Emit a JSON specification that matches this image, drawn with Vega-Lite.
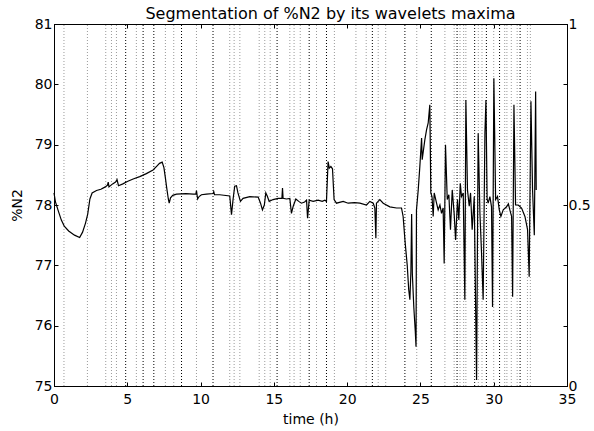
{
  "$schema": "https://vega.github.io/schema/vega-lite/v6.json",
  "width": 513,
  "height": 362,
  "autosize": "none",
  "padding": {"left": 54, "top": 24, "right": 27, "bottom": 45},
  "background": "white",
  "config": {
    "font": "DejaVu Sans",
    "view": {"stroke": "black", "strokeWidth": 1},
    "axis": {
      "grid": false,
      "domainColor": "black",
      "tickColor": "black",
      "labelColor": "black",
      "titleColor": "black",
      "labelFont": "DejaVu Sans",
      "titleFont": "DejaVu Sans",
      "labelFontSize": 14,
      "titleFontSize": 14,
      "titleFontWeight": "normal",
      "tickSize": -4,
      "labelFlush": false,
      "labelOverlap": false
    }
  },
  "title": {
    "text": "Segmentation of %N2 by its wavelets maxima",
    "fontSize": 16,
    "fontWeight": "normal",
    "font": "DejaVu Sans",
    "color": "black",
    "anchor": "middle",
    "offset": -5,
    "dx": 20
  },
  "datasets": {
    "cuts": [
      {"t": 0.68, "level": "fine"}, {"t": 2.28, "level": "fine"}, {"t": 3.53, "level": "fine"},
      {"t": 3.92, "level": "fine"}, {"t": 4.26, "level": "fine"}, {"t": 4.89, "level": "coarse"},
      {"t": 5.62, "level": "fine"}, {"t": 6.08, "level": "coarse"}, {"t": 6.81, "level": "coarse"},
      {"t": 7.6, "level": "fine"}, {"t": 8.17, "level": "fine"}, {"t": 8.7, "level": "coarse"},
      {"t": 9.72, "level": "fine"}, {"t": 10.85, "level": "coarse"}, {"t": 11.99, "level": "fine"},
      {"t": 12.29, "level": "fine"}, {"t": 12.68, "level": "fine"}, {"t": 14.0, "level": "fine"},
      {"t": 14.38, "level": "fine"}, {"t": 14.75, "level": "fine"}, {"t": 15.22, "level": "coarse"},
      {"t": 16.09, "level": "fine"}, {"t": 16.38, "level": "fine"}, {"t": 16.8, "level": "fine"},
      {"t": 17.41, "level": "coarse"}, {"t": 17.91, "level": "fine"}, {"t": 18.59, "level": "coarse"},
      {"t": 19.13, "level": "fine"}, {"t": 20.6, "level": "fine"}, {"t": 21.3, "level": "fine"},
      {"t": 21.72, "level": "coarse"}, {"t": 22.12, "level": "fine"}, {"t": 22.63, "level": "fine"},
      {"t": 23.94, "level": "coarse"}, {"t": 24.75, "level": "fine"}, {"t": 25.74, "level": "coarse"},
      {"t": 26.67, "level": "fine"}, {"t": 27.3, "level": "fine"}, {"t": 27.5, "level": "coarse"},
      {"t": 27.7, "level": "fine"}, {"t": 27.95, "level": "fine"}, {"t": 28.1, "level": "fine"},
      {"t": 28.7, "level": "coarse"}, {"t": 28.95, "level": "fine"}, {"t": 29.2, "level": "fine"},
      {"t": 29.5, "level": "coarse"}, {"t": 30.0, "level": "fine"}, {"t": 30.4, "level": "coarse"},
      {"t": 30.75, "level": "fine"}, {"t": 30.9, "level": "fine"}, {"t": 31.2, "level": "fine"},
      {"t": 31.6, "level": "fine"}, {"t": 31.8, "level": "coarse"}, {"t": 32.3, "level": "fine"},
      {"t": 32.5, "level": "fine"}
    ],
    "n2": [
      {"t": 0, "v": 78.2}, {"t": 0.1, "v": 78.05}, {"t": 0.27, "v": 77.92}, {"t": 0.5, "v": 77.75},
      {"t": 0.7, "v": 77.65}, {"t": 1.0, "v": 77.57}, {"t": 1.4, "v": 77.5}, {"t": 1.75, "v": 77.46},
      {"t": 1.95, "v": 77.55}, {"t": 2.15, "v": 77.7}, {"t": 2.3, "v": 77.85}, {"t": 2.45, "v": 78.1},
      {"t": 2.6, "v": 78.2}, {"t": 2.9, "v": 78.24}, {"t": 3.2, "v": 78.26}, {"t": 3.5, "v": 78.3},
      {"t": 3.65, "v": 78.33}, {"t": 3.7, "v": 78.38}, {"t": 3.75, "v": 78.3}, {"t": 4.0, "v": 78.35},
      {"t": 4.2, "v": 78.38}, {"t": 4.3, "v": 78.42}, {"t": 4.4, "v": 78.32}, {"t": 4.7, "v": 78.35},
      {"t": 5.0, "v": 78.39}, {"t": 5.4, "v": 78.43}, {"t": 5.85, "v": 78.47}, {"t": 6.3, "v": 78.52},
      {"t": 6.76, "v": 78.58}, {"t": 7.0, "v": 78.64}, {"t": 7.2, "v": 78.69}, {"t": 7.38, "v": 78.71},
      {"t": 7.5, "v": 78.62}, {"t": 7.6, "v": 78.45}, {"t": 7.68, "v": 78.3}, {"t": 7.8, "v": 78.1},
      {"t": 7.86, "v": 78.03}, {"t": 7.95, "v": 78.12}, {"t": 8.1, "v": 78.16}, {"t": 8.36, "v": 78.18},
      {"t": 9.0, "v": 78.19}, {"t": 9.5, "v": 78.18}, {"t": 9.68, "v": 78.18}, {"t": 9.72, "v": 78.24},
      {"t": 9.8, "v": 78.1}, {"t": 9.9, "v": 78.14}, {"t": 10.06, "v": 78.17}, {"t": 10.4, "v": 78.18},
      {"t": 10.86, "v": 78.19}, {"t": 10.9, "v": 78.22}, {"t": 10.95, "v": 78.17}, {"t": 11.31, "v": 78.17},
      {"t": 11.99, "v": 78.15}, {"t": 12.11, "v": 77.84}, {"t": 12.22, "v": 78.1}, {"t": 12.33, "v": 78.31},
      {"t": 12.45, "v": 78.32}, {"t": 12.55, "v": 78.2}, {"t": 12.72, "v": 78.06}, {"t": 12.9, "v": 78.11},
      {"t": 13.36, "v": 78.14}, {"t": 13.93, "v": 78.13}, {"t": 14.09, "v": 78.03}, {"t": 14.22, "v": 77.92},
      {"t": 14.35, "v": 78.0}, {"t": 14.45, "v": 78.2}, {"t": 14.55, "v": 78.15}, {"t": 14.68, "v": 78.06},
      {"t": 14.95, "v": 78.09}, {"t": 15.29, "v": 78.11}, {"t": 15.55, "v": 78.11}, {"t": 15.59, "v": 78.28},
      {"t": 15.63, "v": 78.11}, {"t": 15.86, "v": 78.1}, {"t": 16.09, "v": 78.11}, {"t": 16.2, "v": 77.86},
      {"t": 16.32, "v": 77.98}, {"t": 16.5, "v": 78.1}, {"t": 16.7, "v": 78.06}, {"t": 16.88, "v": 78.03},
      {"t": 17.1, "v": 78.05}, {"t": 17.23, "v": 78.08}, {"t": 17.3, "v": 77.78}, {"t": 17.41, "v": 78.08},
      {"t": 17.68, "v": 78.06}, {"t": 18.02, "v": 78.08}, {"t": 18.3, "v": 78.06}, {"t": 18.48, "v": 78.08},
      {"t": 18.59, "v": 78.06}, {"t": 18.7, "v": 78.72}, {"t": 18.78, "v": 78.61}, {"t": 18.89, "v": 78.64},
      {"t": 19.0, "v": 78.6}, {"t": 19.11, "v": 78.09}, {"t": 19.27, "v": 78.03}, {"t": 19.73, "v": 78.06},
      {"t": 20.07, "v": 78.03}, {"t": 20.5, "v": 78.04}, {"t": 20.87, "v": 78.03}, {"t": 21.32, "v": 78.0},
      {"t": 21.55, "v": 78.06}, {"t": 21.78, "v": 78.03}, {"t": 21.89, "v": 77.95}, {"t": 21.96, "v": 77.45},
      {"t": 22.0, "v": 78.03}, {"t": 22.23, "v": 78.09}, {"t": 22.46, "v": 78.03}, {"t": 22.91, "v": 77.97},
      {"t": 23.37, "v": 77.95}, {"t": 23.71, "v": 77.95}, {"t": 23.82, "v": 77.81}, {"t": 23.95, "v": 77.4},
      {"t": 24.1, "v": 77.0}, {"t": 24.2, "v": 76.6}, {"t": 24.28, "v": 76.43}, {"t": 24.35, "v": 76.9},
      {"t": 24.4, "v": 77.85}, {"t": 24.45, "v": 76.85}, {"t": 24.55, "v": 76.3}, {"t": 24.65, "v": 75.9},
      {"t": 24.7, "v": 75.65}, {"t": 24.73, "v": 77.92}, {"t": 24.85, "v": 78.25}, {"t": 24.96, "v": 78.64},
      {"t": 25.08, "v": 79.11}, {"t": 25.12, "v": 78.75}, {"t": 25.3, "v": 79.08}, {"t": 25.42, "v": 79.25},
      {"t": 25.53, "v": 79.36}, {"t": 25.64, "v": 79.66}, {"t": 25.71, "v": 78.2}, {"t": 25.79, "v": 78.14},
      {"t": 25.87, "v": 77.81}, {"t": 25.94, "v": 78.2}, {"t": 26.1, "v": 78.03}, {"t": 26.21, "v": 77.92},
      {"t": 26.33, "v": 78.0}, {"t": 26.44, "v": 77.86}, {"t": 26.55, "v": 77.95}, {"t": 26.62, "v": 77.03},
      {"t": 26.71, "v": 79.0}, {"t": 26.83, "v": 78.09}, {"t": 26.94, "v": 78.17}, {"t": 27.05, "v": 77.59},
      {"t": 27.17, "v": 78.25}, {"t": 27.3, "v": 77.86}, {"t": 27.4, "v": 77.42}, {"t": 27.53, "v": 78.09},
      {"t": 27.62, "v": 77.75}, {"t": 27.72, "v": 78.36}, {"t": 27.8, "v": 78.14}, {"t": 27.92, "v": 78.2},
      {"t": 28.03, "v": 76.43}, {"t": 28.1, "v": 79.74}, {"t": 28.21, "v": 78.25}, {"t": 28.33, "v": 77.98},
      {"t": 28.42, "v": 78.2}, {"t": 28.53, "v": 77.59}, {"t": 28.67, "v": 78.14}, {"t": 28.83, "v": 75.1},
      {"t": 28.94, "v": 79.19}, {"t": 29.06, "v": 77.86}, {"t": 29.17, "v": 77.2}, {"t": 29.28, "v": 76.43},
      {"t": 29.4, "v": 79.19}, {"t": 29.47, "v": 79.74}, {"t": 29.55, "v": 78.1}, {"t": 29.62, "v": 78.03},
      {"t": 29.74, "v": 78.14}, {"t": 29.85, "v": 77.97}, {"t": 29.92, "v": 76.31}, {"t": 30.01, "v": 80.1},
      {"t": 30.13, "v": 78.09}, {"t": 30.26, "v": 78.14}, {"t": 30.38, "v": 77.92}, {"t": 30.49, "v": 77.81},
      {"t": 30.65, "v": 77.92}, {"t": 30.88, "v": 77.97}, {"t": 31.0, "v": 78.02}, {"t": 31.1, "v": 77.92},
      {"t": 31.22, "v": 77.81}, {"t": 31.29, "v": 76.48}, {"t": 31.38, "v": 79.66}, {"t": 31.49, "v": 78.0},
      {"t": 31.67, "v": 78.0}, {"t": 31.9, "v": 77.95}, {"t": 32.13, "v": 77.81}, {"t": 32.31, "v": 77.59},
      {"t": 32.42, "v": 76.81}, {"t": 32.54, "v": 79.72}, {"t": 32.65, "v": 78.25}, {"t": 32.77, "v": 77.5},
      {"t": 32.86, "v": 79.88}, {"t": 32.9, "v": 78.25}
    ]
  },
  "layer": [
    {
      "data": {"name": "cuts"},
      "mark": {"type": "rule", "strokeDash": [1, 2], "strokeWidth": 1},
      "encoding": {
        "x": {
          "field": "t",
          "type": "quantitative",
          "scale": {"domain": [0, 35], "nice": false, "zero": false},
          "axis": {
            "orient": "bottom",
            "values": [0, 5, 10, 15, 20, 25, 30, 35],
            "title": "time (h)",
            "titlePadding": 6,
            "labelPadding": 10
          }
        },
        "y": {
          "datum": 0,
          "type": "quantitative",
          "scale": {"domain": [0, 1], "nice": false, "zero": false},
          "axis": {
            "orient": "right",
            "values": [0, 0.16667, 0.33333, 0.5, 0.66667, 0.83333, 1],
            "labelExpr": "datum.value == 0 ? '0' : datum.value == 0.5 ? '0.5' : datum.value == 1 ? '1' : ''",
            "title": null,
            "labelPadding": 5
          }
        },
        "y2": {"datum": 1},
        "color": {
          "field": "level",
          "type": "nominal",
          "scale": {"domain": ["coarse", "fine"], "range": ["#000000", "#9a9a9a"]},
          "legend": null
        }
      }
    },
    {
      "data": {"name": "n2"},
      "mark": {"type": "line", "color": "black", "strokeWidth": 1.2},
      "encoding": {
        "x": {
          "field": "t",
          "type": "quantitative",
          "axis": {
            "orient": "top",
            "values": [0, 5, 10, 15, 20, 25, 30, 35],
            "labels": false,
            "title": null
          }
        },
        "y": {
          "field": "v",
          "type": "quantitative",
          "scale": {"domain": [75, 81], "nice": false, "zero": false},
          "axis": {
            "orient": "left",
            "values": [75, 76, 77, 78, 79, 80, 81],
            "title": "%N2",
            "titlePadding": 10,
            "labelPadding": 6
          }
        }
      }
    }
  ],
  "resolve": {"scale": {"y": "independent"}, "axis": {"x": "independent"}}
}
